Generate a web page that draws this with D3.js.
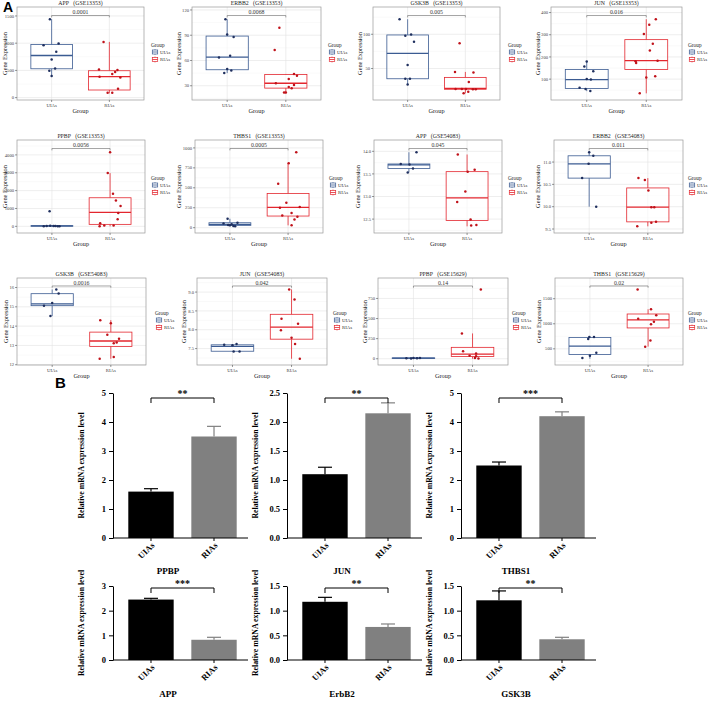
<!DOCTYPE html>
<html><head><meta charset="utf-8">
<script src="https://cdn.jsdelivr.net/npm/d3@7"></script>
<style>body{margin:0;background:#fff}svg{display:block}</style>
</head><body><svg id="c" width="708" height="703"></svg>
<script>
// ---------------- DATA ----------------
const groups = ["UIAs", "RIAs"];
const boxTitles = ["APP\u00a0\u00a0\u00a0(GSE13353)","ERBB2\u00a0\u00a0\u00a0(GSE13353)","GSK3B\u00a0\u00a0\u00a0(GSE13353)","JUN\u00a0\u00a0\u00a0(GSE13353)",
  "PPBP\u00a0\u00a0\u00a0(GSE13353)","THBS1\u00a0\u00a0\u00a0(GSE13353)","APP\u00a0\u00a0\u00a0(GSE54083)","ERBB2\u00a0\u00a0\u00a0(GSE54083)",
  "GSK3B\u00a0\u00a0\u00a0(GSE54083)","JUN\u00a0\u00a0\u00a0(GSE54083)","PPBP\u00a0\u00a0\u00a0(GSE15629)","THBS1\u00a0\u00a0\u00a0(GSE15629)"];
const pValues = ["0.0001","0.0068","0.005","0.016","0.0056","0.0005","0.045","0.011","0.0016","0.042","0.14","0.02"];
const yTickLabelsA = [
  ["0","500","1000","1500"], ["30","60","90","120"], ["50","100"], ["100","200","300","400"],
  ["0","1000","2000","3000","4000"], ["0","250","500","750","1000"], ["12.5","13.0","13.5","14.0"], ["9.5","10.0","10.5","11.0"],
  ["12","13","14","15","16"], ["7.5","8.0","8.5","9.0"], ["0","250","500","750"], ["500","1000","1500"]];
// box stats: [lower whisker, Q1, median, Q3, upper whisker]
const uiasBox = [
  [396,530,774,975,1440],[45,49,64,89,109],[26.5,35,72,99,122],[46,58,98,143,180],
  [0,8,20,35,60],[17,29,42,62,112],[13.53,13.62,13.70,13.72,13.98],[10.0,10.64,10.96,11.14,11.22],
  [14.52,15.06,15.15,15.68,15.9],[7.42,7.43,7.56,7.6,7.62],[2,4,7,10,14],[302,389,556,728,747]];
const riasBox = [
  [79,140,384,494,1024],[21,27.2,33,43.4,44],[13.7,19.6,21,37,45],[36,143,183,278,370],
  [0,110,780,1600,2980],[29,146,254,429,808],[12.34,12.47,12.97,13.55,13.93],[9.56,9.66,9.99,10.42,10.64],
  [12.31,12.95,13.23,13.69,14.31],[7.23,7.75,8.07,8.41,9.07],[0,27,58,142,315],[544,917,1077,1195,1290]];
// points: [value, horizontal jitter in group steps]
const uiasPts = [
  [[1440,-0.03],[963,-0.14],[994,0.12],[841,0.08],[701,0],[537,0.06],[494,-0.04],[396,0]],
  [[109,-0.03],[91,0],[88,0.11],[63.5,-0.14],[65.5,0.05],[50,0],[48,0.07],[45,-0.05]],
  [[122,-0.14],[98,-0.04],[99.5,0.06],[89,0.11],[55,0],[35,-0.04],[35,0.04],[26.5,0]],
  [[180,0],[157,-0.04],[136,0.11],[101,0],[98,0.07],[61,-0.12],[55,-0.02],[47,0.06]],
  [[850,-0.04],[10,-0.14],[30,-0.03],[15,0.03],[5,0.1],[5,0.13],[20,-0.09],[25,0.06]],
  [[112,-0.04],[54,-0.11],[62,0.13],[29,0],[21,0.06],[17,0.09],[42,0.03],[33,-0.03]],
  [[13.98,0.13],[13.72,-0.14],[13.71,0.01],[13.62,0.07],[13.53,-0.02]],
  [[11.22,0],[11.14,0.07],[10.96,-0.01],[10.64,-0.12],[10.0,0.12]],
  [[15.9,0.07],[15.69,0.11],[15.2,0],[15.06,-0.14],[14.52,-0.03]],
  [[7.6,-0.14],[7.59,0],[7.62,0.07],[7.42,0.02],[7.42,0.12]],
  [[5,-0.12],[8,0],[6,0.06],[9,0.11],[4,-0.04]],
  [[735,-0.01],[735,0.07],[698,-0.03],[420,0.11],[364,0],[315,-0.13]]];
const riasPts = [
  [[1024,-0.1],[518,-0.18],[470,0.1],[506,0.14],[433,0.05],[384,-0.17],[372,0.19],[165,0.15],[91,-0.03],[91,0.05]],
  [[99,-0.11],[72.6,-0.19],[44,0.14],[42,0.19],[38,0.05],[33,-0.17],[31,0.14],[28.4,0.05],[27,0.1],[22,-0.03],[22,0]],
  [[87,-0.1],[45,-0.18],[44,0.14],[30.4,0.06],[20,-0.17],[20,-0.06],[20,0.01],[19.6,0.13],[19.6,0.18],[13.7,-0.03],[16,0.05]],
  [[370,0.16],[345,0.05],[303,-0.04],[259,0.11],[229,0.06],[181,-0.18],[173,-0.17],[183,0.19],[107,0],[113,0.15],[36,-0.11]],
  [[4150,0],[2980,-0.04],[1820,0.05],[1450,0.1],[1140,0.18],[750,0.14],[390,0.13],[170,-0.17],[0,-0.18],[50,-0.1],[50,0.06]],
  [[946,0.14],[808,0.01],[550,-0.17],[312,-0.03],[250,-0.14],[258,0.2],[183,0.06],[154,-0.1],[137,0.16],[104,0.11],[29,0.06]],
  [[13.93,-0.16],[13.55,0.01],[13.59,0.13],[13.11,-0.03],[12.88,-0.17],[12.49,0.06],[12.36,0.07],[12.37,0.16]],
  [[10.64,-0.16],[10.6,-0.05],[10.36,0.01],[9.99,0.06],[9.99,0.11],[9.64,0.06],[9.66,0.14],[9.56,-0.18]],
  [[14.31,-0.18],[14.15,0],[13.55,-0.06],[13.34,0.14],[13.15,0.1],[13.11,0.05],[12.31,-0.19],[12.40,0.05]],
  [[9.07,-0.04],[8.8,0.05],[8.29,-0.17],[8.16,0.11],[7.99,-0.18],[7.79,0],[7.62,0.06],[7.23,0.14]],
  [[862,0.14],[315,-0.18],[92,-0.16],[38,-0.05],[65,0.06],[31,0.06],[8,0.04],[4,0.1]],
  [[1685,-0.18],[1290,0.05],[1170,0.14],[1102,-0.17],[1040,0.1],[990,0.05],[667,0.04],[544,-0.05]]];

// Panel B bar charts
const barGenes = ["PPBP","JUN","THBS1","APP","ErbB2","GSK3B"];
const barUIAs = [1.6, 1.1, 2.5, 2.45, 1.18, 1.21];
const barRIAs = [3.5, 2.15, 4.2, 0.82, 0.67, 0.42];
const errUIAs = [0.1, 0.12, 0.12, 0.05, 0.09, 0.19];
const errRIAs = [0.35, 0.18, 0.15, 0.1, 0.06, 0.04];
const barSig = ["**","**","***","***","**","**"];
const barTickLabels = [["0","1","2","3","4","5"],["0.0","0.5","1.0","1.5","2.0","2.5"],["0","1","2","3","4","5"],
  ["0","1","2","3"],["0.0","0.5","1.0","1.5"],["0.0","0.5","1.0","1.5"]];

// ---------------- LAYOUT ----------------
const serif = "'Liberation Serif','Times New Roman',serif";
const colU = "#3b5b92", colR = "#e3262e";
const ptU = "#1f2f5e", ptR = "#c0121a";
const panelX = [[[17,144],[192,321],[373,500],[551,682]],
                [[17,145],[195,323],[374,502],[554,683]],
                [[17,146],[197,327],[378,508],[555,683]]];
const panelTop = [7,140,278], panelBottom = [100,233,365];
const legendX = [[151,328,508,688],[151,329,508,688],[155,333,512,688]];

const svg = d3.select("#c");
svg.append("rect").attr("width",708).attr("height",703).attr("fill","#fff");

for (let i = 0; i < 12; i++) {
  const row = Math.floor(i/4), col = i % 4;
  const [x0, x1] = panelX[row][col];
  const y0 = panelTop[row], y1 = panelBottom[row];
  const vals = [...uiasPts[i].map(d=>d[0]), ...riasPts[i].map(d=>d[0]), ...uiasBox[i], ...riasBox[i]];
  const mn = d3.min(vals), mx = d3.max(vals), rg = mx - mn;
  const bY = mx + 0.05*rg;
  const y = d3.scaleLinear().domain([mn - 0.09*rg, bY + 0.115*rg]).range([y1, y0]);
  const x = d3.scalePoint().domain(groups).range([x0, x1]).padding(0.6);
  const step = x.step();
  const g = svg.append("g");
  const ticks = yTickLabelsA[i].map(Number);
  const tstep = ticks.length > 1 ? ticks[1]-ticks[0] : 50;
  const [dlo, dhi] = y.domain();
  const minors = [];
  for (let t = ticks[0] - tstep/2; t <= dhi; t += tstep) if (t >= dlo) minors.push(t);
  g.selectAll(".mn").data(minors).join("line").attr("x1",x0).attr("x2",x1)
    .attr("y1",d=>y(d)).attr("y2",d=>y(d)).attr("stroke","#f0f0f0").attr("stroke-width",0.4);
  g.selectAll(".mj").data(ticks).join("line").attr("x1",x0).attr("x2",x1)
    .attr("y1",d=>y(d)).attr("y2",d=>y(d)).attr("stroke","#e3e3e3").attr("stroke-width",0.6);
  g.selectAll(".vg").data(groups).join("line").attr("x1",d=>x(d)).attr("x2",d=>x(d))
    .attr("y1",y0).attr("y2",y1).attr("stroke","#e3e3e3").attr("stroke-width",0.6);
  const boxes = [[groups[0], uiasBox[i], colU], [groups[1], riasBox[i], colR]];
  const bw = step*0.72;
  boxes.forEach(([gname, b, c]) => {
    const cx = x(gname);
    g.append("line").attr("x1",cx).attr("x2",cx).attr("y1",y(b[0])).attr("y2",y(b[1])).attr("stroke",c).attr("stroke-width",0.8);
    g.append("line").attr("x1",cx).attr("x2",cx).attr("y1",y(b[3])).attr("y2",y(b[4])).attr("stroke",c).attr("stroke-width",0.8);
    g.append("rect").attr("x",cx-bw/2).attr("width",bw).attr("y",y(b[3])).attr("height",Math.max(0.5,y(b[1])-y(b[3])))
      .attr("fill","#fff").attr("fill-opacity",0.6).attr("stroke",c).attr("stroke-width",0.8);
    g.append("line").attr("x1",cx-bw/2).attr("x2",cx+bw/2).attr("y1",y(b[2])).attr("y2",y(b[2])).attr("stroke",c).attr("stroke-width",1.3);
  });
  [[groups[0], uiasPts[i], ptU], [groups[1], riasPts[i], ptR]].forEach(([gname, pts, c]) => {
    g.selectAll(null).data(pts).join("circle").attr("cx",d=>x(gname)+d[1]*step).attr("cy",d=>y(d[0]))
      .attr("r",1.25).attr("fill",c);
  });
  g.append("rect").attr("x",x0).attr("y",y0).attr("width",x1-x0).attr("height",y1-y0)
    .attr("fill","none").attr("stroke","#999").attr("stroke-width",0.7);
  const tk = (y.range()[0]-y.range()[1])*0.02;
  g.append("path").attr("d",`M${x(groups[0])},${y(bY)+tk}V${y(bY)}H${x(groups[1])}V${y(bY)+tk}`)
    .attr("fill","none").attr("stroke","#666").attr("stroke-width",0.6);
  g.append("text").attr("x",(x(groups[0])+x(groups[1]))/2).attr("y",y(bY)-1.3).attr("text-anchor","middle")
    .attr("font-family",serif).attr("font-size",5.8).attr("fill","#333").text(pValues[i]);
  g.selectAll(".yt").data(ticks).join("line").attr("x1",x0-2).attr("x2",x0).attr("y1",d=>y(d)).attr("y2",d=>y(d))
    .attr("stroke","#333").attr("stroke-width",0.5);
  g.selectAll(".yl").data(yTickLabelsA[i]).join("text").attr("x",x0-3).attr("y",d=>y(+d)+1.6)
    .attr("text-anchor","end").attr("font-family",serif).attr("font-size",4.6).attr("fill","#444").text(d=>d);
  g.selectAll(".xt").data(groups).join("line").attr("x1",d=>x(d)).attr("x2",d=>x(d)).attr("y1",y1).attr("y2",y1+2)
    .attr("stroke","#333").attr("stroke-width",0.5);
  g.selectAll(".xl").data(groups).join("text").attr("x",d=>x(d)).attr("y",y1+6.5).attr("text-anchor","middle")
    .attr("font-family",serif).attr("font-size",4.8).attr("fill","#444").text(d=>d);
  g.append("text").attr("x",(x0+x1)/2).attr("y",y1+13).attr("text-anchor","middle")
    .attr("font-family",serif).attr("font-size",6.3).attr("fill","#222").text("Group");
  const lw = d3.max(yTickLabelsA[i], s => s.length);
  const yl = Math.max(x0 - 4 - lw*2.4, 6.5);
  g.append("text").attr("transform",`translate(${yl},${(y0+y1)/2}) rotate(-90)`).attr("text-anchor","middle")
    .attr("font-family",serif).attr("font-size",6.3).attr("fill","#222").text("Gene Expression");
  g.append("text").attr("x",(x0+x1)/2).attr("y",y0-2).attr("text-anchor","middle")
    .attr("font-family",serif).attr("font-size",5.8).attr("fill","#222").text(boxTitles[i]);
  const lx = legendX[row][col], my = (y0+y1)/2;
  g.append("text").attr("x",lx).attr("y",my-7).attr("font-family",serif).attr("font-size",5.3).attr("fill","#222").text("Group");
  [[groups[0], colU, my-1.5], [groups[1], colR, my+6]].forEach(([gname, c, ky]) => {
    g.append("line").attr("x1",lx+4).attr("x2",lx+4).attr("y1",ky-3).attr("y2",ky+3).attr("stroke",c).attr("stroke-width",0.6);
    g.append("rect").attr("x",lx+1.3).attr("y",ky-2).attr("width",5.4).attr("height",4).attr("fill","#fff").attr("stroke",c).attr("stroke-width",0.7);
    g.append("line").attr("x1",lx+1.3).attr("x2",lx+6.7).attr("y1",ky).attr("y2",ky).attr("stroke",c).attr("stroke-width",0.8);
    g.append("text").attr("x",lx+9).attr("y",ky+1.7).attr("font-family",serif).attr("font-size",4.8).attr("fill","#333").text(gname);
  });
}
svg.append("text").attr("x",3).attr("y",12).text("A")
  .attr("font-family","'Liberation Sans',Arial,sans-serif").attr("font-weight","bold").attr("font-size",14);
svg.append("text").attr("x",55).attr("y",388).text("B")
  .attr("font-family","'Liberation Sans',Arial,sans-serif").attr("font-weight","bold").attr("font-size",15);

// ---------------- PANEL B ----------------
const bAxisX = [113, 287, 461];
const bTop = [393, 586], bZero = [538, 660];
const bBracketY = [398, 588], bGeneY = [574, 697];
for (let k = 0; k < 6; k++) {
  const row = Math.floor(k/3), col = k % 3;
  const ax = bAxisX[col], top = bTop[row], zero = bZero[row];
  const labels = barTickLabels[k], tv = labels.map(Number);
  const y = d3.scaleLinear().domain([0, tv[tv.length-1]]).range([zero, top]);
  const x = d3.scaleBand().domain(groups).range([ax+9, ax+130]).paddingInner(0.28).paddingOuter(0.1);
  const g = svg.append("g").attr("font-family",serif);
  const vals = [barUIAs[k], barRIAs[k]], errs = [errUIAs[k], errRIAs[k]], fills = ["#000000", "#808080"];
  groups.forEach((gn, j) => {
    const cx = x(gn) + x.bandwidth()/2;
    g.append("line").attr("x1",cx).attr("x2",cx).attr("y1",y(vals[j])).attr("y2",y(vals[j]+errs[j])).attr("stroke",fills[j]).attr("stroke-width",1.2);
    g.append("line").attr("x1",cx-7).attr("x2",cx+7).attr("y1",y(vals[j]+errs[j])).attr("y2",y(vals[j]+errs[j])).attr("stroke",fills[j]).attr("stroke-width",1.2);
    g.append("rect").attr("x",x(gn)).attr("width",x.bandwidth()).attr("y",y(vals[j])).attr("height",zero-y(vals[j])).attr("fill",fills[j]);
    g.append("line").attr("x1",cx).attr("x2",cx).attr("y1",zero).attr("y2",zero+3).attr("stroke","#000").attr("stroke-width",1);
    g.append("text").attr("transform",`translate(${cx+4},${zero+8}) rotate(-45)`).attr("text-anchor","end")
      .attr("font-weight","bold").attr("font-size",8.5).text(gn);
  });
  const ya = g.append("g").attr("transform",`translate(${ax},0)`)
    .call(d3.axisLeft(y).tickValues(tv).tickFormat((d,idx)=>labels[idx]).tickSize(4).tickSizeOuter(0));
  ya.selectAll("text").attr("font-family",serif).attr("font-weight","bold").attr("font-size",8.5).attr("fill","#000");
  ya.selectAll("line,path").attr("stroke","#000").attr("stroke-width",1);
  g.append("line").attr("x1",ax).attr("x2",ax+135).attr("y1",zero).attr("y2",zero).attr("stroke","#000").attr("stroke-width",1);
  const c0 = x(groups[0]) + x.bandwidth()/2, c1 = x(groups[1]) + x.bandwidth()/2, by = bBracketY[row];
  g.append("path").attr("d",`M${c0},${by+5}V${by}H${c1}V${by+5}`).attr("fill","none").attr("stroke","#000").attr("stroke-width",1);
  g.append("text").attr("x",(c0+c1)/2).attr("y",by-1).attr("text-anchor","middle").attr("font-weight","bold")
    .attr("font-size",10).text(barSig[k]);
  g.append("text").attr("transform",`translate(${ax-29},${(top+zero)/2}) rotate(-90)`).attr("text-anchor","middle")
    .attr("font-weight","bold").attr("font-size",7.8).text("Relative mRNA expression level");
  g.append("text").attr("x",ax+55).attr("y",bGeneY[row]).attr("text-anchor","middle").attr("font-weight","bold")
    .attr("font-size",9).text(barGenes[k]);
}
</script></body></html>
